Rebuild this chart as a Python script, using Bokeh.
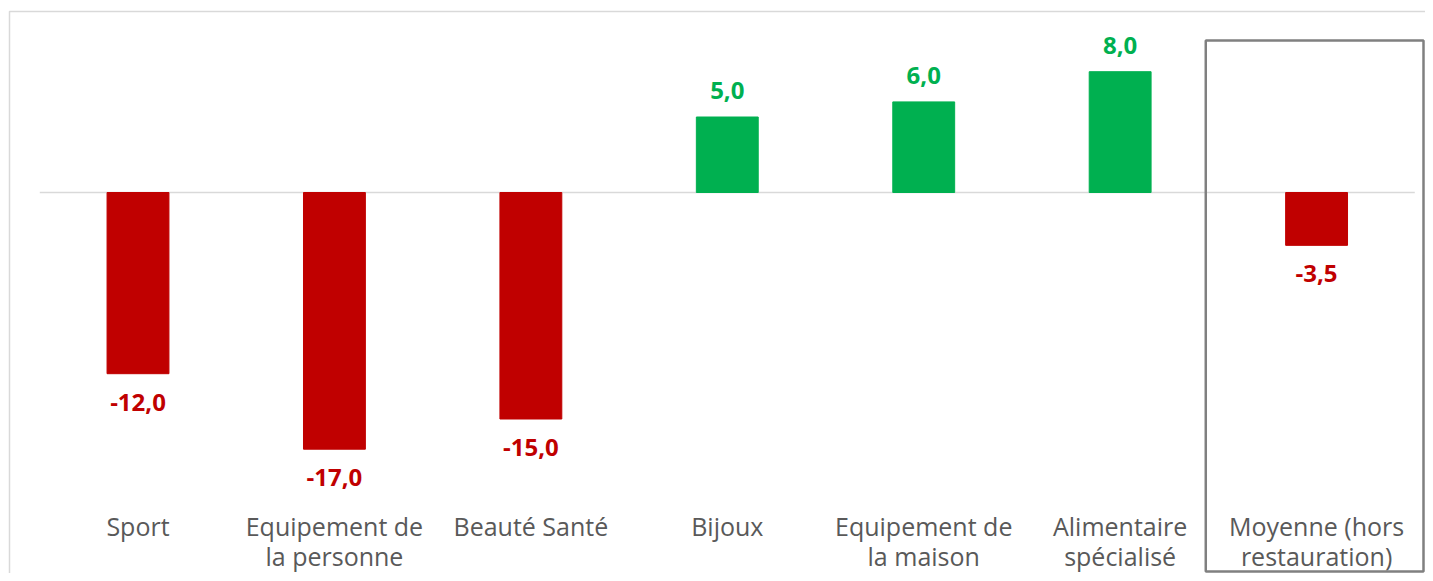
from bokeh.plotting import figure
from bokeh.models import ColumnDataSource, BoxAnnotation, LabelSet, Range1d
from bokeh.embed import file_html
from bokeh.resources import INLINE
from bokeh.core.properties import value

categories = ["Sport", "Equipement de\nla personne", "Beauté Santé", "Bijoux",
              "Equipement de\nla maison", "Alimentaire\nspécialisé", "Moyenne (hors\nrestauration)"]
values = [-12.0, -17.0, -15.0, 5.0, 6.0, 8.0, -3.5]

RED = "#C00000"
GREEN = "#00B050"

n = len(categories)
xs = list(range(n))
labels = [("%.1f" % v).replace(".", ",") for v in values]
colors = [GREEN if v >= 0 else RED for v in values]

# canvas geometry (pixels)
W, H = 1425, 573
PX_X = 196.43          # pixels per category
PX_Y = 15.1            # pixels per unit
X0_PX = 137.5          # canvas x of first category centre
Y0_PX = 192            # canvas y of zero line

x_start = -X0_PX / PX_X
x_end = x_start + W / PX_X
y_end = Y0_PX / PX_Y
y_start = y_end - H / PX_Y

def ydata(px):
    return y_end - px / PX_Y

def xdata(px):
    return x_start + px / PX_X

src = ColumnDataSource(dict(x=xs, val=values, col=colors))
pos = ColumnDataSource(dict(x=[x for x, v in zip(xs, values) if v >= 0],
                            val=[v for v in values if v >= 0],
                            lab=[l for l, v in zip(labels, values) if v >= 0],
                            col=[c for c, v in zip(colors, values) if v >= 0]))
neg = ColumnDataSource(dict(x=[x for x, v in zip(xs, values) if v < 0],
                            val=[v for v in values if v < 0],
                            lab=[l for l, v in zip(labels, values) if v < 0],
                            col=[c for c, v in zip(colors, values) if v < 0]))
cat_src = ColumnDataSource(dict(x=xs, y=[ydata(508)] * n, text=categories))

p = figure(x_range=Range1d(x_start, x_end), y_range=Range1d(y_start, y_end),
           width=W, height=H, output_backend="svg", toolbar_location=None,
           x_axis_location=None, y_axis_location=None,
           min_border=0, min_border_left=0, min_border_right=0,
           min_border_top=0, min_border_bottom=0)
p.outline_line_color = None
p.xgrid.grid_line_color = None
p.ygrid.grid_line_color = None

# zero line across the category bands
p.segment(x0=[xs[0] - 0.5], x1=[xs[-1] + 0.5], y0=[0], y1=[0],
          line_color="#d9d9d9", line_width=1.5)

p.vbar(x="x", top="val", bottom=0, width=0.315, color="col", source=src)

p.add_layout(LabelSet(x="x", y="val", text="lab", source=pos, text_color="col",
                      text_font=value("Open Sans"), text_font_style="bold", text_font_size="24px",
                      text_align="center", text_baseline="alphabetic", y_offset=18))
p.add_layout(LabelSet(x="x", y="val", text="lab", source=neg, text_color="col",
                      text_font=value("Open Sans"), text_font_style="bold", text_font_size="24px",
                      text_align="center", text_baseline="top", y_offset=-20))

# category labels
p.text(x="x", y="y", text="text", source=cat_src, text_font=value("Open Sans"),
       text_font_size="25px", text_color="#595959", text_align="center",
       text_baseline="top", text_line_height=0.9)

# outer light frame
p.add_layout(BoxAnnotation(left=xdata(9), right=x_end + 1, top=ydata(11), bottom=y_start - 1,
                           fill_color=None, fill_alpha=0, line_color="#d9d9d9",
                           line_alpha=1.0, line_width=1.5))
# highlight box around the average
idx = n - 1
p.add_layout(BoxAnnotation(left=idx - 0.5 - 12.6 / PX_X, right=xdata(W - 2),
                           top=ydata(40), bottom=ydata(571),
                           fill_color=None, fill_alpha=0, line_color="#808080",
                           line_alpha=1.0, line_width=2.5))

open("out.html", "w").write(file_html(p, INLINE))
